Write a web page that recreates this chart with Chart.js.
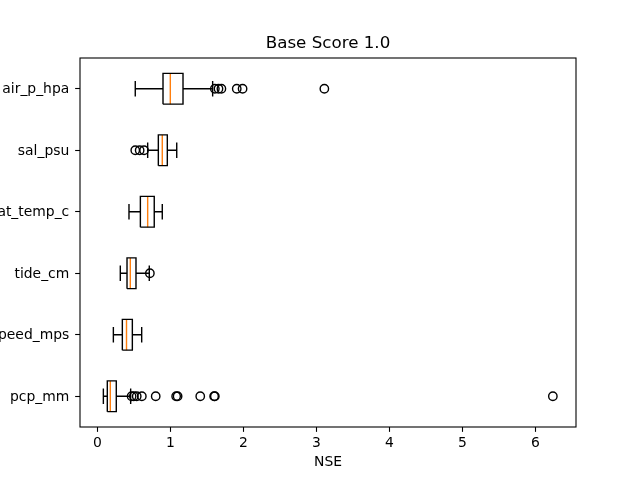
<!DOCTYPE html>
<html>
<head>
<meta charset="utf-8">
<script src="https://cdn.jsdelivr.net/npm/chart.js@4"></script>
<style>
  body { margin: 0; background: #fff; }
  canvas { display: block; }
</style>
</head>
<body>
<canvas id="boxChart" width="640" height="480"></canvas>
<script>
// bottom to top, like matplotlib's vert=False boxplot
const categories = ["pcp_mm", "wind_speed_mps", "tide_cm", "wat_temp_c", "sal_psu", "air_p_hpa"];
const whiskerLow = [0.083, 0.22, 0.315, 0.434, 0.69, 0.52];
const q1 = [0.137, 0.343, 0.407, 0.59, 0.836, 0.90];
const median = [0.178, 0.40, 0.452, 0.69, 0.89, 1.00];
const q3 = [0.26, 0.48, 0.53, 0.78, 0.959, 1.174];
const whiskerHigh = [0.457, 0.608, 0.712, 0.89, 1.088, 1.58];
const outliers = [
	[0.47, 0.50, 0.54, 0.61, 0.80, 1.08, 1.10, 1.41, 1.60, 1.61, 6.24],
	[],
	[0.72],
	[],
	[0.52, 0.58, 0.64],
	[1.61, 1.66, 1.70, 1.91, 1.99, 3.11],
];
const xTicks = [0, 1, 2, 3, 4, 5, 6];

const FONT = "'DejaVu Sans', sans-serif";
const boxHalf = 0.25;
const capHalf = 0.125;

// build line paths separated by gaps
const boxLines = [];
const medianLines = [];
const fliers = [];
const gap = { x: null, y: null };
categories.forEach((c, i) => {
	const y = i + 1;
	boxLines.push(
		{ x: q1[i], y: y - boxHalf }, { x: q3[i], y: y - boxHalf },
		{ x: q3[i], y: y + boxHalf }, { x: q1[i], y: y + boxHalf },
		{ x: q1[i], y: y - boxHalf }, gap,
		{ x: q1[i], y: y }, { x: whiskerLow[i], y: y }, gap,
		{ x: q3[i], y: y }, { x: whiskerHigh[i], y: y }, gap,
		{ x: whiskerLow[i], y: y - capHalf }, { x: whiskerLow[i], y: y + capHalf }, gap,
		{ x: whiskerHigh[i], y: y - capHalf }, { x: whiskerHigh[i], y: y + capHalf }, gap
	);
	medianLines.push({ x: median[i], y: y - boxHalf }, { x: median[i], y: y + boxHalf }, gap);
	outliers[i].forEach((v) => fliers.push({ x: v, y: y }));
});

const frame = {
	id: "frame",
	afterDraw(chart) {
		const { ctx, chartArea: a } = chart;
		ctx.save();
		ctx.strokeStyle = "#000";
		ctx.lineWidth = 1.1;
		ctx.strokeRect(a.left, a.top, a.right - a.left, a.bottom - a.top);
		ctx.restore();
	},
};

const config = {
	type: "scatter",
	data: {
		datasets: [
			{
				data: boxLines,
				xAxisID: "x",
				yAxisID: "y",
				showLine: true,
				spanGaps: false,
				borderColor: "#000",
				borderWidth: 1.4,
				pointRadius: 0,
				tension: 0,
			},
			{
				data: medianLines,
				xAxisID: "x",
				yAxisID: "y",
				showLine: true,
				spanGaps: false,
				borderColor: "#ff7f0e",
				borderWidth: 1.4,
				pointRadius: 0,
				tension: 0,
			},
			{
				data: fliers,
				xAxisID: "x",
				yAxisID: "y",
				showLine: false,
				pointStyle: "circle",
				pointRadius: 4.2,
				pointBorderWidth: 1.4,
				pointBorderColor: "#000",
				pointBackgroundColor: "rgba(0,0,0,0)",
			},
		],
	},
	options: {
		responsive: false,
		animation: false,
		devicePixelRatio: 1,
		layout: { padding: { left: 0, right: 64, top: 0, bottom: 0 } },
		plugins: {
			legend: false,
			tooltip: { enabled: false },
		},
		scales: {
			x: {
				type: "linear",
				position: "bottom",
				min: -0.237,
				max: 6.557,
				afterBuildTicks: (scale) => {
					scale.ticks = xTicks.map((v) => ({ value: v }));
				},
				afterFit: (scale) => {
					scale.height = 53;
				},
				grid: {
					drawOnChartArea: false,
					drawTicks: true,
					tickLength: 4.86,
					tickWidth: 1.1,
					tickColor: "#000",
				},
				border: { display: false },
				ticks: {
					color: "#000",
					padding: 2.7,
					maxRotation: 0,
					font: { family: FONT, size: 13.9 },
				},
				title: {
					display: true,
					text: "NSE",
					color: "#000",
					font: { family: FONT, size: 13.9 },
					padding: { top: 0, bottom: 9.5 },
				},
			},
			// top axis only carries the title, centred over the plot area
			top: {
				type: "linear",
				position: "top",
				afterFit: (scale) => {
					scale.height = 58;
				},
				grid: { display: false },
				border: { display: false },
				ticks: { display: false },
				title: {
					display: true,
					text: "Base Score 1.0",
					color: "#000",
					font: { family: FONT, size: 16.7 },
					padding: { top: 33.2, bottom: 0 },
				},
			},
			y: {
				type: "linear",
				min: 0.5,
				max: 6.5,
				afterBuildTicks: (scale) => {
					scale.ticks = categories.map((c, i) => ({ value: i + 1 }));
				},
				afterFit: (scale) => {
					scale.width = 80;
				},
				grid: {
					drawOnChartArea: false,
					drawTicks: true,
					tickLength: 4.86,
					tickWidth: 1.1,
					tickColor: "#000",
				},
				border: { display: false },
				ticks: {
					color: "#000",
					padding: 5.9,
					labelOffset: 1,
					font: { family: FONT, size: 13.9 },
					callback: (v) => categories[v - 1],
				},
			},
		},
	},
	plugins: [frame],
};

new Chart(document.getElementById("boxChart"), config);
</script>
</body>
</html>
